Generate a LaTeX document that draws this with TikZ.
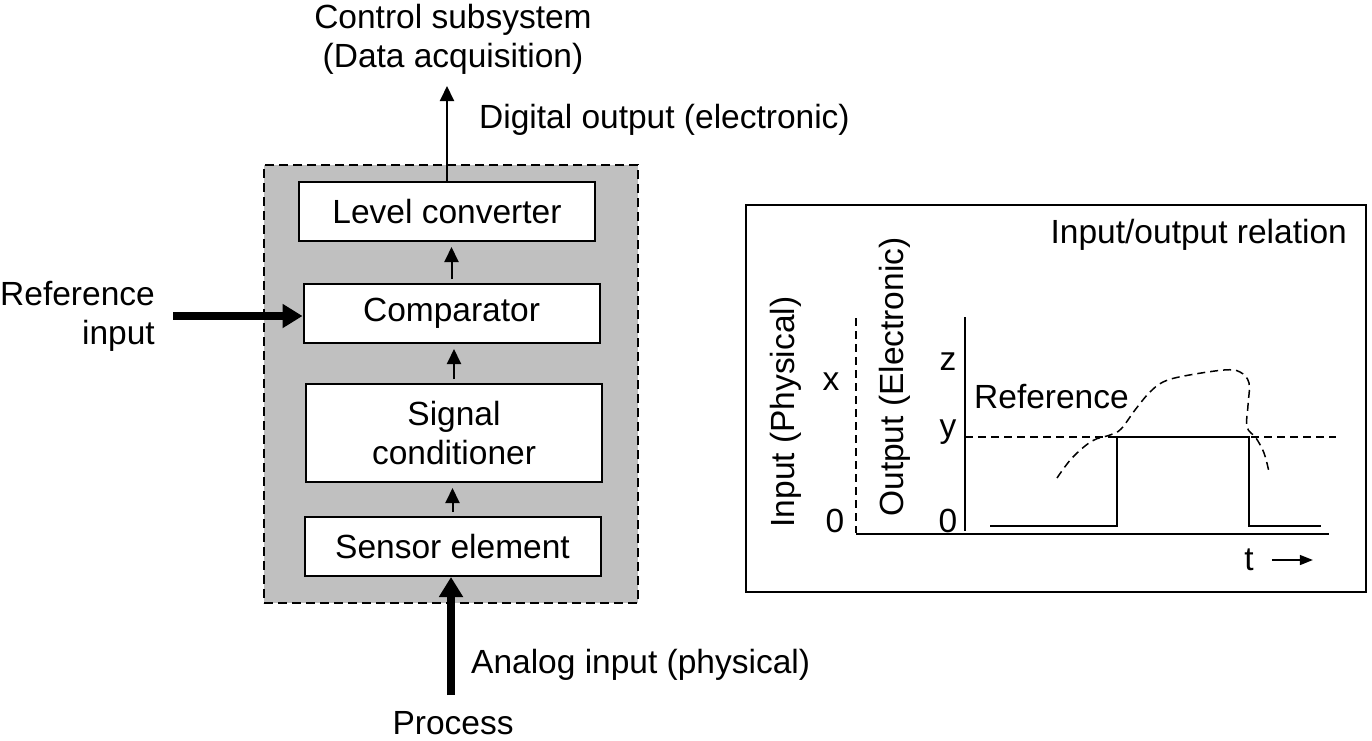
\documentclass[tikz,border=0pt]{standalone}
\usepackage{fontspec}
\setmainfont{Liberation Sans}
\usetikzlibrary{positioning, arrows.meta, calc, backgrounds}
\definecolor{panelFill}{RGB}{192,192,192}
\tikzset{
  every node/.style={font=\fontsize{33.5}{39}\selectfont, inner sep=0pt},
  BLK/.style={draw, fill=white, line width=2pt, align=center, minimum width=296pt, minimum height=59pt},
  AR/.style={-{Triangle[length=15pt, width=14pt]}, line width=2pt},
  FAT/.style={-{Triangle[length=20pt, width=23pt]}, line width=8pt},
  DSH/.style={line width=1.6pt, dash pattern=on 8pt off 5pt},
  PLT/.style={line width=2pt},
}
\newcommand{\vflow}[2]{\draw[AR, shorten <=4pt, shorten >=5pt] (#1.north) -- (#1.north |- #2.south);}

\begin{document}
\begin{tikzpicture}[x=1pt, y=1pt, yscale=-1]
\useasboundingbox (0,0) rectangle (1372,740);

%% ---------------------------------------------------------------
%%  Sensor chain
%% ---------------------------------------------------------------

\node[draw, fill=panelFill, line width=2pt, dash pattern=on 9pt off 5pt,
  minimum width=374pt, minimum height=438pt] (PNL) at (451,384) {};

\node[BLK] (LVL) at (447,211.5) {Level converter};
\node[BLK] (CMP) at (451.5,313.5) {Comparator};
\node[BLK, minimum height=98pt] (SIG) at (454,433) {Signal\\conditioner};
\node[BLK] (SEN) at (452.5,546.5) {Sensor element};

\vflow{SEN}{SIG}
\vflow{SIG}{CMP}
\vflow{CMP}{LVL}

%% output to control subsystem
\node[align=center] (CTL) at (453,39) {Control subsystem\\(Data acquisition)};
\coordinate (DAQ) at (447,86);
\draw[AR] (LVL.north) -- (DAQ);
\node[anchor=west] (DIG) at (479,120) {Digital output (electronic)};

%% reference input
\node[align=right, anchor=east] (REF) at (155,316) {Reference\\input};
\coordinate (REFT) at (173,316);
\draw[FAT] (REFT) -- (REFT -| CMP.west);

%% process input
\node (PRC) at (453,723) {Process};
\coordinate (PRCT) at (451,695);
\draw[FAT] (PRCT) -- (PRCT |- SEN.south);
\node[anchor=west] (ANA) at (471,665) {Analog input (physical)};

%% ---------------------------------------------------------------
%%  Input/output relation
%% ---------------------------------------------------------------

\draw[PLT] (746,205) rectangle (1366,592);
\node[anchor=east] (IOT) at (1347,235) {Input/output relation};

\node[rotate=90] (INP) at (786,412) {Input (Physical)};
\node[rotate=90] (OUTP) at (895,377) {Output (Electronic)};

\draw[DSH] (856,318) -- (856,533);
\draw[PLT] (856,534) -- (1329,534);
\draw[PLT] (965,317) -- (965,531);
\draw[DSH] (965,437) -- (1336,437);

\node (XIN) at (831,382) {x};
\node (ZIN) at (835,521) {0};
\node (ZOUT) at (948,362) {z};
\node (YOUT) at (948,432) {y};
\node (ZERO) at (948,521) {0};
\node[anchor=west] (RFL) at (974,397) {Reference};

%% output step and input curve
\draw[PLT] (990,526) -- (1117,526) -- (1117,437) -- (1249,437)
  -- (1249,526) -- (1321,526);
\draw[DSH, line width=1.5pt] plot[smooth, tension=0.6] coordinates {
  (1057,478) (1072,458) (1092,441) (1110,435) (1121,429) (1135,410)
  (1149,393) (1163,382) (1184,376) (1224,370) (1240,372) (1249,383)
  (1248,405) (1247,427) (1256,438) (1264,453) (1269,472)};

\node (TT) at (1249,560) {t};
\draw[-{Triangle[length=13pt, width=10pt]}, line width=1.5pt]
  ([xshift=18pt]TT.east) -- ++(41,0);

\end{tikzpicture}
\end{document}
